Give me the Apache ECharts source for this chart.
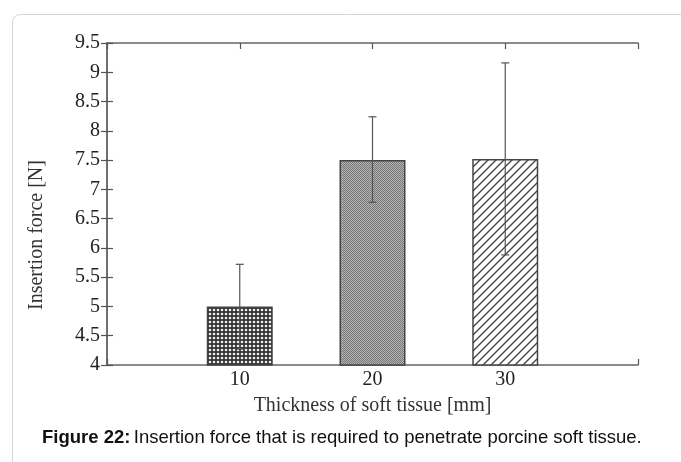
<!DOCTYPE html>
<html>
<head>
    <meta charset="UTF-8">
    <title>Insertion force</title>
    <script type="text/javascript" src="https://cdn.jsdelivr.net/npm/echarts@6/dist/echarts.min.js"></script>
    <style>
        html, body { margin: 0; padding: 0; background: #fff; }
        #main { width: 681px; height: 462px; }
    </style>
</head>
<body>
<div id="main"></div>
<script type="text/javascript">
    // data
    var thickness = [10, 20, 30];
    var force = [5.0, 7.5, 7.52];
    var errLow = [4.27, 6.78, 5.88];
    var errHigh = [5.72, 8.24, 9.16];
    var yTicks = [4, 4.5, 5, 5.5, 6, 6.5, 7, 7.5, 8, 8.5, 9, 9.5];

    // fill patterns for the three bars
    function makePattern(kind) {
        var c = document.createElement('canvas');
        var ctx = c.getContext('2d');
        if (kind === 'dots') {
            c.width = 4; c.height = 4;
            ctx.fillStyle = '#333';
            ctx.fillRect(0, 0, 4, 4);
            ctx.fillStyle = '#eee';
            ctx.beginPath();
            ctx.arc(2, 2, 1.3, 0, Math.PI * 2);
            ctx.fill();
        } else if (kind === 'fine') {
            c.width = 2; c.height = 2;
            ctx.fillStyle = '#b4b4b4';
            ctx.fillRect(0, 0, 2, 2);
            ctx.fillStyle = '#777';
            ctx.fillRect(0, 0, 1, 1);
            ctx.fillRect(1, 1, 1, 1);
        } else {
            c.width = 8; c.height = 8;
            ctx.fillStyle = '#fff';
            ctx.fillRect(0, 0, 8, 8);
            ctx.strokeStyle = '#444';
            ctx.lineWidth = 1.4;
            ctx.beginPath();
            ctx.moveTo(-2, 10); ctx.lineTo(10, -2);
            ctx.moveTo(-2, 2); ctx.lineTo(2, -2);
            ctx.moveTo(6, 10); ctx.lineTo(10, 6);
            ctx.stroke();
        }
        return { image: c, repeat: 'repeat' };
    }
    var patterns = [makePattern('dots'), makePattern('fine'), makePattern('hatch')];

    var barData = [];
    var errData = [];
    for (var i = 0; i < thickness.length; i++) {
        barData.push({
            value: [thickness[i], force[i]],
            itemStyle: { color: patterns[i], borderColor: '#444', borderWidth: 1.5 }
        });
        errData.push([thickness[i], errLow[i], errHigh[i]]);
    }

    var serif = 'Liberation Serif';
    // fresh objects for every axis, ticks point into the plot
    function ticks() { return { show: true, inside: true, length: 6, lineStyle: { color: '#555', width: 1.2 } }; }
    function axLine() { return { show: true, lineStyle: { color: '#666', width: 1.5 } }; }

    function xLabel(v) { return (v > 0 && v < 40) ? String(v) : ''; }
    function yLabel(v) {
        for (var k = 0; k < yTicks.length; k++) {
            if (Math.abs(yTicks[k] - v) < 1e-6) return String(yTicks[k]);
        }
        return '';
    }

    var myChart = echarts.init(document.getElementById('main'));
    var option = {
        animation: false,
        grid: { left: 107, right: 43, top: 43, bottom: 97 },
        xAxis: [{
            type: 'value', min: 0, max: 40, interval: 10, position: 'bottom',
            name: 'Thickness of soft tissue [mm]', nameLocation: 'middle', nameGap: 31,
            nameTextStyle: { fontFamily: serif, fontSize: 20, color: '#333' },
            axisLine: axLine(),
            axisTick: ticks(),
            axisLabel: { fontFamily: serif, fontSize: 20, color: '#222', margin: 5, formatter: xLabel },
            splitLine: { show: false }
        }, {
            type: 'value', min: 0, max: 40, interval: 10, position: 'top',
            axisLine: axLine(),
            axisTick: ticks(),
            axisLabel: { show: false },
            splitLine: { show: false }
        }],
        yAxis: [{
            type: 'value', min: 4, max: 9.5, interval: 0.5, position: 'left',
            axisLine: axLine(),
            axisTick: ticks(),
            axisLabel: { fontFamily: serif, fontSize: 20, color: '#222', margin: 7, formatter: yLabel },
            splitLine: { show: false }
        }, {
            type: 'value', min: 4, max: 9.5, interval: 0.5, position: 'right',
            axisLine: axLine(),
            axisTick: ticks(),
            axisLabel: { show: false },
            splitLine: { show: false }
        }],
        graphic: [
            {
                type: 'rect', left: 10, top: 12, z: -10,
                shape: { width: 690, height: 470, r: 8 },
                style: { fill: 'none', stroke: '#d4d4d4', lineWidth: 1 }
            },
            {
                type: 'text', x: 37, y: 235, rotation: Math.PI / 2,
                style: {
                    text: 'Insertion force [N]', fontFamily: serif, fontSize: 20, fill: '#333',
                    align: 'center', verticalAlign: 'middle'
                }
            },
            {
                type: 'text', left: 42, top: 428,
                style: {
                    rich: {
                        b: { fontFamily: 'Liberation Sans', fontSize: 18.5, fontWeight: 'bold', fill: '#111' },
                        n: { fontFamily: 'Liberation Sans', fontSize: 18.5, fill: '#111' }
                    },
                    text: '{b|Figure 22:} {n|Insertion force that is required to penetrate porcine soft tissue.}'
                }
            }
        ],
        series: [
            {
                type: 'bar',
                barWidth: 66,
                data: barData
            },
            {
                type: 'custom',
                z: 10,
                data: errData,
                renderItem: function (params, api) {
                    var x = api.value(0);
                    var lo = api.coord([x, api.value(1)]);
                    var hi = api.coord([x, api.value(2)]);
                    var cap = 4;
                    var st = { stroke: '#555', lineWidth: 1.2 };
                    return {
                        type: 'group',
                        children: [
                            { type: 'line', shape: { x1: hi[0], y1: hi[1], x2: lo[0], y2: lo[1] }, style: st },
                            { type: 'line', shape: { x1: hi[0] - cap, y1: hi[1], x2: hi[0] + cap, y2: hi[1] }, style: st },
                            { type: 'line', shape: { x1: lo[0] - cap, y1: lo[1], x2: lo[0] + cap, y2: lo[1] }, style: st }
                        ]
                    };
                }
            }
        ]
    };
    myChart.setOption(option);
</script>
</body>
</html>
